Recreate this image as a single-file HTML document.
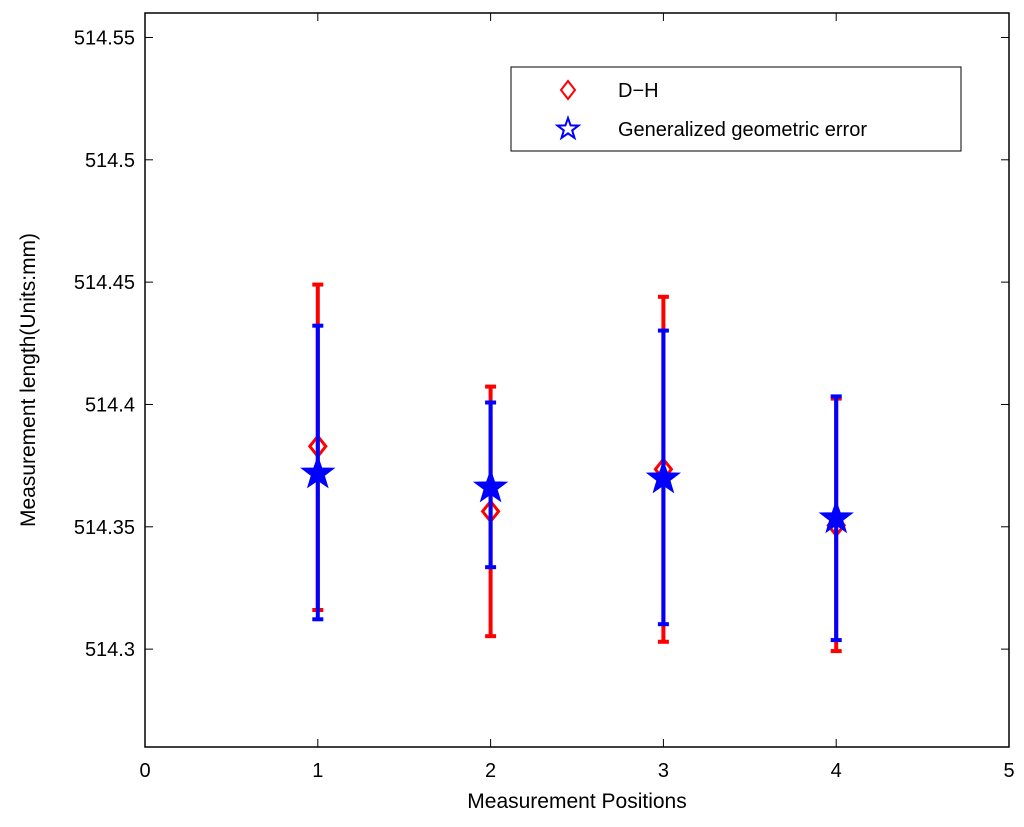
<!DOCTYPE html>
<html><head><meta charset="utf-8"><style>
html,body{margin:0;padding:0;background:#fff;}
svg{display:block;font-family:"Liberation Sans",Arial,sans-serif;}
</style></head><body>
<svg id="chart" width="1024" height="827" viewBox="0 0 1024 827" xmlns="http://www.w3.org/2000/svg"></svg>
<script>
const positions = [1, 2, 3, 4];
const dhMean = [514.3829, 514.3563, 514.3735, 514.3506];
const dhUpper = [514.449, 514.4073, 514.444, 514.4024];
const dhLower = [514.316, 514.3053, 514.303, 514.2992];
const ggeMean = [514.3718, 514.3661, 514.3698, 514.3535];
const ggeUpper = [514.4322, 514.4008, 514.4302, 514.4033];
const ggeLower = [514.3122, 514.3335, 514.3102, 514.3037];
const xTicks = [0, 1, 2, 3, 4, 5];
const yTicks = [514.3, 514.35, 514.4, 514.45, 514.5, 514.55];
const yTickLabels = ["514.3", "514.35", "514.4", "514.45", "514.5", "514.55"];

const L = 145, R = 1009, T = 13, B = 747;
const X0 = 0, X1 = 5, Y0 = 514.26, Y1 = 514.56;
const sx = v => L + (v - X0) / (X1 - X0) * (R - L);
const sy = v => B - (v - Y0) / (Y1 - Y0) * (B - T);
const NS = "http://www.w3.org/2000/svg";
const svg = document.getElementById("chart");
function mk(tag, attrs, parent) {
  const e = document.createElementNS(NS, tag);
  for (const k in attrs) e.setAttribute(k, attrs[k]);
  (parent || svg).appendChild(e);
  return e;
}

// axes box
const box = mk("rect", {x: L, y: T, width: R - L, height: B - T, fill: "none", stroke: "#000", "stroke-width": 1.5});



xTicks.forEach(t => {
  const x = sx(t);
  mk("line", {x1: x, x2: x, y1: B, y2: B - 8, stroke: "#000", "stroke-width": 1});
  mk("line", {x1: x, x2: x, y1: T, y2: T + 8, stroke: "#000", "stroke-width": 1});
  const tx = mk("text", {x: x, y: B + 30, "text-anchor": "middle", "font-size": 20});
  tx.textContent = t;
  
  
});
yTicks.forEach((t, i) => {
  const y = sy(t);
  mk("line", {x1: L, x2: L + 8, y1: y, y2: y, stroke: "#000", "stroke-width": 1});
  mk("line", {x1: R, x2: R - 8, y1: y, y2: y, stroke: "#000", "stroke-width": 1});
  const tx = mk("text", {x: L - 10, y: y + 7, "text-anchor": "end", "font-size": 20});
  tx.textContent = yTickLabels[i];
  
  
});

const xt = mk("text", {x: (L + R) / 2, y: 808, "text-anchor": "middle", "font-size": 21});
xt.textContent = "Measurement Positions";


const yt = mk("text", {x: 0, y: 0, "text-anchor": "middle", "font-size": 21, transform: "translate(35," + ((T + B) / 2) + ") rotate(-90)"});
yt.textContent = "Measurement length(Units:mm)";



function errbar(xv, lo, hi, color, name) {
  const g = mk("g", {});
  
  
  const x = sx(xv);
  mk("line", {x1: x, x2: x, y1: sy(lo), y2: sy(hi), stroke: color, "stroke-width": 4}, g);
  mk("line", {x1: x - 5.5, x2: x + 5.5, y1: sy(lo), y2: sy(lo), stroke: color, "stroke-width": 4}, g);
  mk("line", {x1: x - 5.5, x2: x + 5.5, y1: sy(hi), y2: sy(hi), stroke: color, "stroke-width": 4}, g);
}
function diamond(cx, cy, parent) {
  return mk("polygon", {points: `${cx},${cy-10} ${cx+8},${cy} ${cx},${cy+10} ${cx-8},${cy}`, fill: "none", stroke: "red", "stroke-width": 3}, parent);
}
function star(cx, cy, r, fill, sw, parent) {
  const pts = [];
  for (let i = 0; i < 10; i++) {
    const a = -Math.PI / 2 + i * Math.PI / 5;
    const rr = i % 2 ? r * 0.4 : r;
    pts.push((cx + rr * Math.cos(a)).toFixed(1) + "," + (cy + rr * Math.sin(a)).toFixed(1));
  }
  return mk("polygon", {points: pts.join(" "), fill: fill, stroke: "blue", "stroke-width": sw}, parent);
}

positions.forEach((p, i) => {
  errbar(p, dhLower[i], dhUpper[i], "red", "dh-error-bar");
  const d = diamond(sx(p), sy(dhMean[i]));
  
  
});
positions.forEach((p, i) => {
  errbar(p, ggeLower[i], ggeUpper[i], "blue", "gge-error-bar");
  const s = star(sx(p), sy(ggeMean[i]), 17, "blue", 1);
  
  
});

// legend
const lg = mk("g", {});


mk("rect", {x: 511, y: 67, width: 450, height: 84, fill: "#fff", stroke: "#000", "stroke-width": 1}, lg);
const le1 = mk("g", {}, lg);


mk("polygon", {points: "568,81 575,90 568,99 561,90", fill: "none", stroke: "red", "stroke-width": 2}, le1);
const t1 = mk("text", {x: 618, y: 97, "font-size": 20}, le1);
t1.textContent = "D\u2212H";
const le2 = mk("g", {}, lg);


star(568, 129, 11, "none", 2, le2);
const t2 = mk("text", {x: 618, y: 136, "font-size": 20}, le2);
t2.textContent = "Generalized geometric error";
</script>
</body></html>
